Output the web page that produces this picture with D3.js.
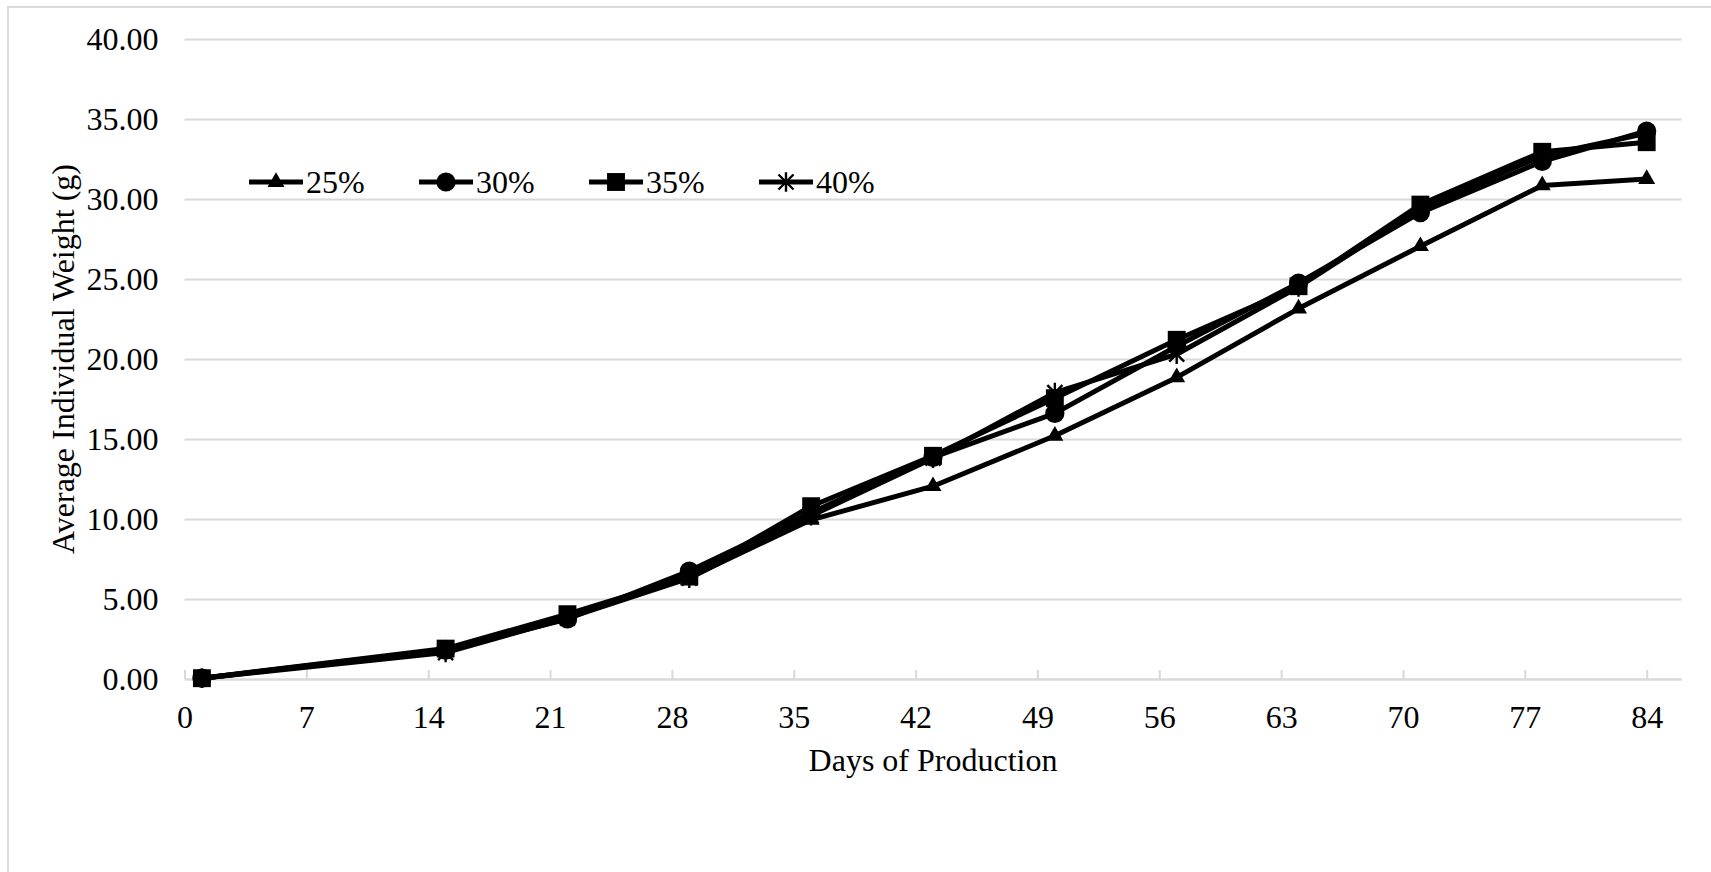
<!DOCTYPE html>
<html>
<head>
<meta charset="utf-8">
<script src="https://cdn.jsdelivr.net/npm/d3@7"></script>
<style>
  html, body { margin: 0; padding: 0; background: #fff; }
  svg { display: block; }
  text { font-family: "Liberation Serif", "Times New Roman", serif; fill: #000; }
</style>
</head>
<body>
<svg id="chart" width="1711" height="872"></svg>
<script>
// data
const days = [1, 15, 22, 29, 36, 43, 50, 57, 64, 71, 78, 84];
const s25 = [0.05, 1.85, 3.9, 6.35, 9.95, 12.05, 15.2, 18.85, 23.15, 27.05, 30.85, 31.25];
const s30 = [0.05, 1.8, 3.75, 6.75, 10.4, 13.85, 16.6, 20.8, 24.75, 29.15, 32.35, 34.25];
const s35 = [0.05, 1.9, 4.05, 6.4, 10.8, 13.95, 17.55, 21.2, 24.55, 29.65, 32.95, 33.55];
const s40 = [0.05, 1.65, 3.8, 6.3, 10.2, 13.8, 17.9, 20.3, 24.5, 29.4, 32.7, 34.1];
const seriesNames = ["25%", "30%", "35%", "40%"];
const markerTypes = ["triangle", "circle", "square", "star"];
const xTicks = [0, 7, 14, 21, 28, 35, 42, 49, 56, 63, 70, 77, 84];
const yTicks = [0, 5, 10, 15, 20, 25, 30, 35, 40];

const series = [s25, s30, s35, s40].map((vals, i) => ({
  name: seriesNames[i],
  marker: markerTypes[i],
  values: vals.map((v, j) => ({ day: days[j], w: v }))
}));

const svg = d3.select("#chart");
const grey = "#d9d9d9";

const margin = { left: 184.5, right: 1681.5, top: 39, bottom: 679 };

const xScale = d3.scaleLinear().domain([0, 86]).range([margin.left, margin.right]);
const yScale = d3.scaleLinear().domain([0, 40]).range([margin.bottom, margin.top]);

// chart area border (runs past the window edge on right/bottom)
svg.append("rect")
  .attr("x", 8).attr("y", 7)
  .attr("width", 1740).attr("height", 900)
  .attr("fill", "none")
  .attr("stroke", grey)
  .attr("stroke-width", 2);

// y gridlines + labels
const yAxis = d3.axisLeft(yScale)
  .tickValues(yTicks)
  .tickSize(-(margin.right - margin.left))
  .tickPadding(26)
  .tickFormat(d3.format(".2f"));

svg.append("g")
  .attr("transform", `translate(${margin.left},0)`)
  .call(yAxis)
  .call(g => g.select(".domain").remove())
  .call(g => g.selectAll(".tick line").attr("stroke", grey).attr("stroke-width", 2))
  .call(g => g.selectAll(".tick text")
    .attr("font-size", 32)
    .attr("dy", "0.34em"));

// x axis, ticks pointing inward
const xAxis = d3.axisBottom(xScale)
  .tickValues(xTicks)
  .tickSize(-9)
  .tickSizeOuter(0)
  .tickPadding(0);

svg.append("g")
  .attr("transform", `translate(0,${margin.bottom})`)
  .call(xAxis)
  .call(g => g.select(".domain").attr("stroke", grey).attr("stroke-width", 2))
  .call(g => g.selectAll(".tick line").attr("stroke", grey).attr("stroke-width", 2))
  .call(g => g.selectAll(".tick text")
    .attr("font-size", 32)
    .attr("y", 49)
    .attr("dy", 0));

// axis titles
svg.append("text")
  .attr("x", (margin.left + margin.right) / 2)
  .attr("y", 771)
  .attr("text-anchor", "middle")
  .attr("font-size", 32)
  .text("Days of Production");

svg.append("text")
  .attr("transform", `translate(74,${(margin.top + margin.bottom) / 2}) rotate(-90)`)
  .attr("text-anchor", "middle")
  .attr("font-size", 32)
  .text("Average Individual Weight (g)");

// markers
const starPath = (r) =>
  `M${-r},${-r}L${r},${r}M${-r},${r}L${r},${-r}M0,${-r * 1.3}L0,${r * 1.3}`;

const drawMarker = (sel, type) => {
  if (type === "star") {
    sel.append("path")
      .attr("d", starPath(7.5))
      .attr("fill", "none")
      .attr("stroke", "#000")
      .attr("stroke-width", 2.4);
  } else {
    const sym = { triangle: d3.symbolTriangle, circle: d3.symbolCircle, square: d3.symbolSquare }[type];
    const size = { triangle: 125, circle: 290, square: 320 }[type];
    sel.append("path")
      .attr("d", d3.symbol().type(sym).size(size)())
      .attr("fill", "#000");
  }
};

const line = d3.line()
  .x(d => xScale(d.day))
  .y(d => yScale(d.w));

const plot = svg.append("g");

series.forEach(s => {
  const g = plot.append("g").attr("class", "series");
  g.append("path")
    .datum(s.values)
    .attr("d", line)
    .attr("fill", "none")
    .attr("stroke", "#000")
    .attr("stroke-width", 5)
    .attr("stroke-linejoin", "round");

  g.selectAll(".pt")
    .data(s.values)
    .join("g")
      .attr("class", "pt")
      .attr("transform", d => `translate(${xScale(d.day)},${yScale(d.w)})`)
      .each(function() { drawMarker(d3.select(this), s.marker); });
});

// legend
const legend = svg.append("g")
  .attr("transform", "translate(249,182)");

const items = legend.selectAll(".legend-item")
  .data(series)
  .join("g")
    .attr("class", "legend-item")
    .attr("transform", (d, i) => `translate(${i * 170},0)`);

items.append("line")
  .attr("x1", 0).attr("x2", 54)
  .attr("y1", 0).attr("y2", 0)
  .attr("stroke", "#000")
  .attr("stroke-width", 5);

items.append("g")
  .attr("transform", "translate(27,0)")
  .each(function(d) { drawMarker(d3.select(this), d.marker); });

items.append("text")
  .attr("x", 57)
  .attr("y", 0)
  .attr("dy", "0.35em")
  .attr("font-size", 32)
  .text(d => d.name);
</script>
</body>
</html>
